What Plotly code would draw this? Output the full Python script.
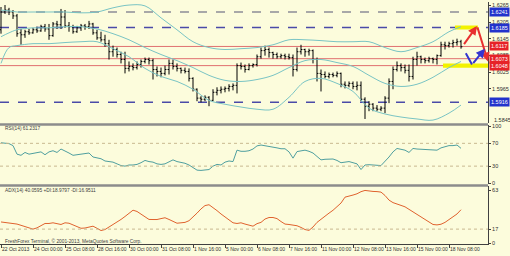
import plotly.graph_objects as go

# ---------------- data ----------------
time_labels = ['22 Oct 2013', '24 Oct 00:00', '25 Oct 08:00', '28 Oct 16:00', '30 Oct 00:00',
               '31 Oct 08:00', '1 Nov 16:00', '5 Nov 00:00', '6 Nov 08:00', '7 Nov 16:00',
               '11 Nov 00:00', '12 Nov 08:00', '13 Nov 16:00', '15 Nov 00:00', '18 Nov 08:00']
tick_idx = list(range(0, 113, 8))

open_ = [1.6177, 1.6241, 1.6248, 1.6241, 1.6227, 1.6166, 1.6159, 1.6170, 1.6166, 1.6177,
         1.6173, 1.6188, 1.6180, 1.6156, 1.6198, 1.6195, 1.6223, 1.6191, 1.6188, 1.6170,
         1.6184, 1.6191, 1.6188, 1.6198, 1.6166, 1.6148, 1.6141, 1.6127, 1.6098, 1.6106,
         1.6088, 1.6070, 1.6038, 1.6045, 1.6041, 1.6052, 1.6063, 1.6070, 1.6066, 1.6034,
         1.6027, 1.6020, 1.6034, 1.6056, 1.6045, 1.6038, 1.6031, 1.6027, 1.6002, 1.5963,
         1.5931, 1.5927, 1.5934, 1.5923, 1.5952, 1.5959, 1.5963, 1.5966, 1.5973, 1.5977,
         1.6048, 1.6045, 1.6034, 1.6048, 1.6052, 1.6080, 1.6102, 1.6106, 1.6095, 1.6088,
         1.6080, 1.6084, 1.6080, 1.6077, 1.6034, 1.6098, 1.6106, 1.6098, 1.6102, 1.6070,
         1.6020, 1.6016, 1.6009, 1.6016, 1.6013, 1.6020, 1.5981, 1.5977, 1.5984, 1.5973,
         1.5977, 1.5927, 1.5902, 1.5909, 1.5895, 1.5891, 1.5895, 1.5931, 1.5991, 1.6034,
         1.6048, 1.6041, 1.6031, 1.6009, 1.6070, 1.6080, 1.6070, 1.6066, 1.6073, 1.6070,
         1.6084, 1.6123, 1.6120, 1.6127, 1.6131, 1.6134]
high = [1.6259, 1.6266, 1.6256, 1.6248, 1.6234, 1.6180, 1.6177, 1.6180, 1.6184, 1.6188,
        1.6195, 1.6198, 1.6198, 1.6205, 1.6209, 1.6252, 1.6248, 1.6205, 1.6195, 1.6191,
        1.6198, 1.6198, 1.6209, 1.6202, 1.6177, 1.6170, 1.6159, 1.6141, 1.6120, 1.6113,
        1.6098, 1.6098, 1.6063, 1.6056, 1.6063, 1.6070, 1.6077, 1.6077, 1.6073, 1.6045,
        1.6041, 1.6048, 1.6070, 1.6070, 1.6056, 1.6041, 1.6041, 1.6038, 1.6006, 1.5966,
        1.5938, 1.5941, 1.5938, 1.5963, 1.5970, 1.5973, 1.5973, 1.5981, 1.5984, 1.6056,
        1.6059, 1.6052, 1.6056, 1.6056, 1.6088, 1.6113, 1.6120, 1.6113, 1.6098, 1.6095,
        1.6091, 1.6091, 1.6091, 1.6088, 1.6113, 1.6123, 1.6109, 1.6109, 1.6106, 1.6077,
        1.6034, 1.6027, 1.6023, 1.6023, 1.6027, 1.6023, 1.5991, 1.5991, 1.5991, 1.5991,
        1.5991, 1.5934, 1.5920, 1.5913, 1.5906, 1.5902, 1.5938, 1.6002, 1.6045, 1.6063,
        1.6056, 1.6052, 1.6052, 1.6080, 1.6098, 1.6084, 1.6077, 1.6080, 1.6077, 1.6088,
        1.6134, 1.6134, 1.6134, 1.6141, 1.6145, 1.6141]
low = [1.6163, 1.6234, 1.6230, 1.6216, 1.6152, 1.6123, 1.6148, 1.6159, 1.6163, 1.6166,
       1.6170, 1.6170, 1.6141, 1.6152, 1.6180, 1.6180, 1.6184, 1.6170, 1.6163, 1.6166,
       1.6173, 1.6177, 1.6180, 1.6159, 1.6141, 1.6134, 1.6116, 1.6070, 1.6080, 1.6077,
       1.6056, 1.6020, 1.6027, 1.6031, 1.6034, 1.6041, 1.6056, 1.6052, 1.5998, 1.6009,
       1.6006, 1.6013, 1.6016, 1.6034, 1.6027, 1.6020, 1.6020, 1.5991, 1.5955, 1.5920,
       1.5916, 1.5920, 1.5902, 1.5920, 1.5941, 1.5948, 1.5952, 1.5955, 1.5959, 1.5948,
       1.6034, 1.6023, 1.6031, 1.6041, 1.6045, 1.6073, 1.6084, 1.6077, 1.6073, 1.6073,
       1.6073, 1.6070, 1.6070, 1.6009, 1.6027, 1.6088, 1.6080, 1.6084, 1.6056, 1.5991,
       1.5955, 1.6002, 1.6002, 1.6006, 1.6006, 1.5970, 1.5966, 1.5970, 1.5963, 1.5959,
       1.5920, 1.5856, 1.5884, 1.5884, 1.5884, 1.5884, 1.5877, 1.5913, 1.5963, 1.6027,
       1.6027, 1.6020, 1.5991, 1.5998, 1.6048, 1.6056, 1.6056, 1.6059, 1.6056, 1.6052,
       1.6080, 1.6106, 1.6113, 1.6113, 1.6120, 1.6109]
close = [1.6241, 1.6248, 1.6241, 1.6227, 1.6163, 1.6159, 1.6170, 1.6166, 1.6177, 1.6173,
         1.6188, 1.6180, 1.6156, 1.6198, 1.6195, 1.6223, 1.6191, 1.6188, 1.6170, 1.6184,
         1.6191, 1.6188, 1.6198, 1.6166, 1.6148, 1.6141, 1.6127, 1.6098, 1.6106, 1.6088,
         1.6070, 1.6038, 1.6045, 1.6041, 1.6052, 1.6063, 1.6070, 1.6066, 1.6034, 1.6027,
         1.6020, 1.6034, 1.6056, 1.6045, 1.6038, 1.6031, 1.6027, 1.6002, 1.5963, 1.5931,
         1.5927, 1.5934, 1.5923, 1.5952, 1.5959, 1.5963, 1.5966, 1.5973, 1.5977, 1.6048,
         1.6045, 1.6034, 1.6048, 1.6052, 1.6080, 1.6102, 1.6106, 1.6095, 1.6088, 1.6080,
         1.6084, 1.6080, 1.6077, 1.6034, 1.6098, 1.6106, 1.6098, 1.6102, 1.6070, 1.6020,
         1.6016, 1.6009, 1.6016, 1.6013, 1.6020, 1.5981, 1.5977, 1.5984, 1.5973, 1.5977,
         1.5927, 1.5902, 1.5909, 1.5895, 1.5891, 1.5895, 1.5931, 1.5991, 1.6034, 1.6048,
         1.6041, 1.6031, 1.6009, 1.6070, 1.6080, 1.6070, 1.6066, 1.6073, 1.6070, 1.6084,
         1.6123, 1.6120, 1.6127, 1.6131, 1.6134, 1.6116]

band_idx = [0, 2, 4, 8, 12, 16, 20, 24, 28, 32, 36, 40, 44, 48, 52, 56, 60, 64, 68, 72,
            76, 80, 84, 88, 92, 96, 100, 104, 108, 112, 115]
bb_upper = [1.6248, 1.6245, 1.6241, 1.6241, 1.6241, 1.6241, 1.6238, 1.6241, 1.6256, 1.6266,
            1.6263, 1.6220, 1.6177, 1.6134, 1.6113, 1.6106, 1.6109, 1.6113, 1.6123, 1.6141,
            1.6141, 1.6138, 1.6134, 1.6134, 1.6134, 1.6113, 1.6098, 1.6113, 1.6134, 1.6170, 1.6188]
bb_middle = [1.6152, 1.6166, 1.6177, 1.6184, 1.6184, 1.6188, 1.6188, 1.6180, 1.6163, 1.6141,
             1.6113, 1.6088, 1.6066, 1.6041, 1.6013, 1.5995, 1.5991, 1.5998, 1.6013, 1.6041,
             1.6066, 1.6070, 1.6059, 1.6045, 1.6013, 1.5984, 1.5973, 1.5981, 1.6006, 1.6041, 1.6063]
bb_lower = [1.6056, 1.6113, 1.6120, 1.6127, 1.6127, 1.6131, 1.6134, 1.6134, 1.6109, 1.6080,
            1.6038, 1.6009, 1.5991, 1.5963, 1.5923, 1.5909, 1.5899, 1.5891, 1.5891, 1.5934,
            1.5991, 1.6002, 1.5984, 1.5955, 1.5895, 1.5874, 1.5863, 1.5856, 1.5852, 1.5877, 1.5906]

rsi = [71, 70, 69.5, 66, 51, 49, 54, 51, 52, 54, 55, 50, 55, 57, 54, 60, 57, 53, 49, 50,
       51, 52, 53, 46, 44, 43, 39, 38, 37, 34, 31, 30, 32, 32, 33, 36, 40, 38, 37, 34,
       33, 34, 38, 41, 38, 37, 35, 32, 28, 23, 22.5, 23, 24, 30, 33, 32, 37, 39, 38, 58,
       56, 56, 57, 60, 65.5, 67, 66, 65, 63.5, 62, 60.5, 60.5, 55, 44, 55.5, 57, 58, 56, 53, 47,
       41, 42, 42.5, 42.5, 40, 36, 37, 38, 36, 34, 24, 32, 32.5, 32.5, 31.5, 31, 38, 46, 55, 61,
       59.5, 58, 54, 61, 60, 59.5, 59, 58.8, 58.5, 58, 62, 64, 66, 66, 67, 61.23]
adx = [25.5, 25, 24.5, 24, 23, 21.5, 20, 18.3, 17, 18.5, 21, 23.7, 23.7, 24.5, 23.5, 22.5, 24.5, 24, 22, 19.6,
       18, 18.3, 19.5, 20.5, 18, 15.3, 16.5, 19.5, 21.5, 25, 28.5, 32, 36, 39.5, 38, 35, 31.5, 28.5, 28.4, 28.4,
       29.5, 30.5, 28.5, 26.5, 24, 24.5, 25, 27, 31, 36, 41, 45, 46, 43, 39, 35, 31.5, 28, 24.5, 23.7,
       24.5, 23, 21.5, 20.5, 23.5, 25, 29, 30.8, 30.8, 29.5, 26, 23, 22.5, 22, 21, 19, 16.5, 15.5, 19.5, 25,
       29, 32.7, 36, 39.4, 44, 48, 55, 56, 57.5, 59, 61.5, 63, 62, 61.8, 61.6, 61, 57, 51.5, 48.5, 46.5,
       45.2, 43.5, 40.5, 37, 35, 32, 29, 26, 22.5, 22, 22.8, 25, 28, 31, 35, 40.06]

price_ticks = [1.6265, 1.6205, 1.6145, 1.6085, 1.6025, 1.5965]
bottom_price_label = '1.5845'
level_prices = [1.6241, 1.6185, 1.6117, 1.6073, 1.6048, 1.5916]
level_kinds = ['grey', 'navy', 'red', 'red', 'red', 'navy']
rsi_levels = [70, 30]
adx_levels = [17]

red_arrow = [(115.5, 1.6120), (119.0, 1.6191), (121.75, 1.6063)]
blue_arrow = [(116.0, 1.6098), (117.75, 1.6052), (121.0, 1.6109)]

# ---------------- figure ----------------
BG = '#fcfcdc'
FONT = 'Liberation Sans'
TXT = '#303030'
AX_FS = 5.5
TIME_FS = 5
NOTE_FS = 4.8
n = len(close)
idx = list(range(n))

fig = go.Figure()
fig.add_trace(go.Ohlc(x=idx, open=open_, high=high, low=low, close=close,
                      increasing=dict(line=dict(color='black', width=1)),
                      decreasing=dict(line=dict(color='black', width=1)),
                      tickwidth=0.35, xaxis='x', yaxis='y', showlegend=False, hoverinfo='skip'))
for band in (bb_upper, bb_middle, bb_lower):
    fig.add_trace(go.Scatter(x=band_idx, y=band, mode='lines', line=dict(color='#79c4c4', width=1, shape='spline'),
                             xaxis='x', yaxis='y', showlegend=False, hoverinfo='skip'))
fig.add_trace(go.Scatter(x=idx, y=rsi, mode='lines', line=dict(color='#4f9f9f', width=1),
                         xaxis='x', yaxis='y2', showlegend=False, hoverinfo='skip'))
fig.add_trace(go.Scatter(x=idx, y=adx, mode='lines', line=dict(color='#e0622e', width=1),
                         xaxis='x', yaxis='y3', showlegend=False, hoverinfo='skip'))

shapes = []
styles = {'grey': dict(color='#a8a8a8', width=2, dash='dash'),
          'navy': dict(color='#4a4aa8', width=1.5, dash='dash'),
          'red': dict(color='#e07070', width=1)}
for p, k in zip(level_prices, level_kinds):
    shapes.append(dict(type='line', xref='paper', yref='y', x0=0, x1=1, y0=p, y1=p, line=styles[k], layer='below'))
# yellow highlight bands
shapes.append(dict(type='rect', xref='x', yref='y', x0=113.5, x1=119.25, y0=1.6178, y1=1.6192,
                   fillcolor='#f2f200', line=dict(width=0), layer='below'))
shapes.append(dict(type='rect', xref='x', yref='y', x0=110.5, x1=121.75, y0=1.6040, y1=1.6056,
                   fillcolor='#f2f200', line=dict(width=0), layer='below'))
for lv in rsi_levels:
    shapes.append(dict(type='line', xref='paper', yref='y2', x0=0, x1=1, y0=lv, y1=lv,
                       line=dict(color='#c8b890', width=1, dash='dot')))
for lv in adx_levels:
    shapes.append(dict(type='line', xref='paper', yref='y3', x0=0, x1=1, y0=lv, y1=lv,
                       line=dict(color='#c8b890', width=1, dash='dot')))
# window separators
for yy in (1 - 123.5 / 244, 1 - 185 / 244):
    shapes.append(dict(type='line', xref='paper', yref='paper', x0=0, x1=1, y0=yy, y1=yy,
                       line=dict(color='#8c8c8c', width=2.5)))

annotations = []
box_colors = {'grey': '#2233cc', 'navy': '#2233cc', 'red': '#e62228'}
for p, k in zip(level_prices, level_kinds):
    annotations.append(dict(x=1, xref='paper', xanchor='left', xshift=1, y=p, yref='y',
                            text=f'{p:.4f}', showarrow=False, bgcolor=box_colors[k],
                            font=dict(family=FONT, size=AX_FS, color='white'), borderpad=1))
annotations.append(dict(x=1, xref='paper', xanchor='left', xshift=4, y=1 - 119 / 244, yref='paper',
                        yanchor='middle', text=bottom_price_label, showarrow=False,
                        font=dict(family=FONT, size=AX_FS, color=TXT)))


def arrow_segments(pts, color, heads):
    out = []
    for (a, b), h in zip(zip(pts[:-1], pts[1:]), heads):
        out.append(dict(x=b[0], y=b[1], ax=a[0], ay=a[1], xref='x', yref='y', axref='x', ayref='y',
                        text='', showarrow=True, arrowhead=2 if h else 0, arrowsize=0.9,
                        arrowwidth=2, arrowcolor=color))
    return out


annotations += arrow_segments(red_arrow, '#e83030', [True, True])
annotations += arrow_segments(blue_arrow, '#3535d0', [False, True])

txt_items = [('RSI(14) 61.2317', 1 - 128 / 244),
             ('ADX(14) 40.0595 +DI:18.9797 -DI:16.9511', 1 - 190 / 244),
             ('FreshForex Terminal, \u00a9 2001-2013, MetaQuotes Software Corp.', 1 - 241 / 244)]
for t, yy in txt_items:
    annotations.append(dict(x=3 / 488, y=yy, xref='paper', yref='paper', xanchor='left', yanchor='middle',
                            text=t, showarrow=False, font=dict(family=FONT, size=NOTE_FS, color='#404040')))

yax_common = dict(side='right', showgrid=False, zeroline=False, showline=True, linecolor='#404040',
                  linewidth=1, ticks='outside', ticklen=2, tickcolor='#404040',
                  tickfont=dict(family=FONT, size=AX_FS, color=TXT), anchor='x', fixedrange=True)

fig.update_layout(
    width=510, height=256, margin=dict(l=0, r=22, t=0, b=12),
    paper_bgcolor=BG, plot_bgcolor=BG, showlegend=False,
    xaxis=dict(range=[-0.25, 121.75], tickvals=tick_idx, ticktext=time_labels, tickangle=0,
               ticklabelposition='outside right', ticks='outside', ticklen=3, tickcolor='#404040',
               tickfont=dict(family=FONT, size=TIME_FS, color=TXT), showgrid=False, zeroline=False,
               showline=True, linecolor='#404040', anchor='y3', rangeslider=dict(visible=False),
               fixedrange=True),
    yaxis=dict(domain=[1 - 122.5 / 244, 1], range=[1.58397, 1.6277], tickvals=price_ticks,
               ticktext=[f'{v:.4f}' for v in price_ticks], **yax_common),
    yaxis2=dict(domain=[1 - 184 / 244, 1 - 124.5 / 244], range=[-2.2, 101.3], tickvals=[0, 30, 70, 100],
                **yax_common),
    yaxis3=dict(domain=[0, 1 - 186 / 244], range=[-0.7, 67.7], tickvals=[0, 17, 63], **yax_common),
    shapes=shapes, annotations=annotations,
)

fig.write_html('out.html', config={'displayModeBar': False})
